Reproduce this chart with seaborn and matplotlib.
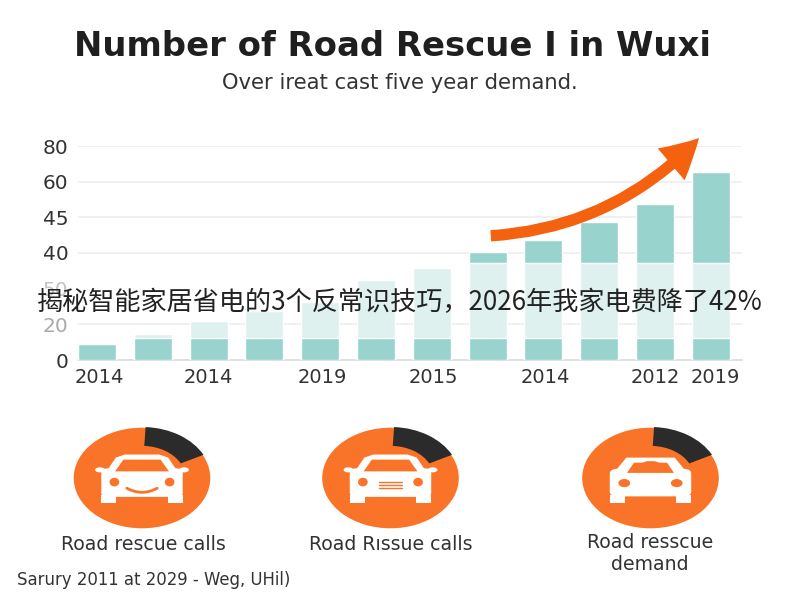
import numpy as np
import matplotlib
matplotlib.use("Agg")
import matplotlib.pyplot as plt
import seaborn as sns
from matplotlib.patches import Ellipse, FancyArrowPatch, FancyBboxPatch, Polygon, Rectangle

# bar heights are read in axis steps (one step = one gridline gap)
bar_heights = [0.45, 0.73, 1.09, 1.37, 1.62, 2.24, 2.58, 3.03, 3.36, 3.87, 4.37, 5.27]
band_low = 0.62
band_high = 2.72
x_tick_pos = [0.05, 2, 4.03, 6.02, 8.03, 10, 11.08]
x_tick_labels = ["2014", "2014", "2019", "2015", "2014", "2012", "2019"]
y_tick_labels = ["0", "20", "50", "40", "45", "60", "80"]
y_tick_colors = ["#333333", "#aaaaaa", "#c4c4c4", "#333333", "#333333", "#333333", "#333333"]

pie_shares = [1, 5]
pie_labels = ["Road rescue calls", "Road Rıssue calls", "Road resscue\ndemand"]

TEAL = "#98d3cd"
PALE = "#dff1ef"
ORANGE = "#f97428"
DARK = "#2b2b2b"
TEXT = "#333333"

W, H = 800, 600


def px_axes(fig, left, top, right, bottom):
    return fig.add_axes([left / W, 1 - bottom / H, (right - left) / W, (bottom - top) / H])


def draw_car(ax, kind):
    # car icon, coordinates relative to the pie circle
    if kind < 2:
        ax.add_patch(FancyBboxPatch((-0.59, -0.37), 1.18, 0.56, boxstyle="round,pad=0,rounding_size=0.1",
                                    fc="white", ec="none", mutation_aspect=0.75, zorder=5))
        ax.add_patch(Polygon([(-0.52, 0.12), (-0.38, 0.4), (-0.25, 0.46), (0.25, 0.46), (0.38, 0.4), (0.52, 0.12)],
                             fc="white", ec="none", zorder=5))
        ax.add_patch(Polygon([(-0.39, 0.13), (-0.27, 0.36), (0.27, 0.36), (0.39, 0.13)], fc=ORANGE, ec="none", zorder=6))
        for sx in (-1, 1):
            ax.add_patch(Ellipse((sx * 0.61, 0.16), 0.14, 0.1, fc="white", ec="none", zorder=5))
            ax.add_patch(Ellipse((sx * 0.4, -0.08), 0.14, 0.17, fc=ORANGE, ec="none", zorder=6))
            ax.add_patch(Rectangle((sx * 0.48 - 0.11, -0.49), 0.22, 0.15, fc="white", ec="none", zorder=5))
        if kind == 0:
            t = np.linspace(-1, 1, 30)
            ax.plot(t * 0.22, -0.2 - 0.08 * (1 - t ** 2), color=ORANGE, lw=2, zorder=6)
        else:
            for gy in (-0.08, -0.14, -0.2):
                ax.plot([-0.16, 0.16], [gy, gy], color=ORANGE, lw=1.0, zorder=6)
    else:
        ax.add_patch(FancyBboxPatch((-0.59, -0.36), 1.18, 0.54, boxstyle="round,pad=0,rounding_size=0.12",
                                    fc="white", ec="none", mutation_aspect=0.75, zorder=5))
        ax.add_patch(Polygon([(-0.52, 0.12), (-0.35, 0.4), (0.35, 0.4), (0.52, 0.12)], fc="white", ec="none", zorder=5))
        ax.add_patch(Polygon([(-0.34, 0.1), (-0.24, 0.3), (-0.12, 0.3), (-0.05, 0.33), (0.06, 0.33), (0.13, 0.3),
                              (0.24, 0.3), (0.34, 0.1)], fc=ORANGE, ec="none", zorder=6))
        for sx in (-1, 1):
            ax.add_patch(Ellipse((sx * 0.38, -0.1), 0.17, 0.16, fc=ORANGE, ec="none", zorder=6))
            ax.add_patch(Rectangle((sx * 0.48 - 0.11, -0.49), 0.22, 0.15, fc="white", ec="none", zorder=5))


sns.set_theme(style="white")
plt.rcParams["font.family"] = ["DejaVu Sans"]

fig = plt.figure(figsize=(8, 6), dpi=100, facecolor="white")

# bar chart
ax = px_axes(fig, 78, 146, 742, 360)
x = np.arange(len(bar_heights))
heights = np.array(bar_heights)
sns.barplot(x=x, y=heights, color=TEAL, width=0.68, saturation=1, ax=ax, zorder=3)
sns.barplot(x=x, y=np.minimum(heights, band_high), color=PALE, width=0.68, saturation=1, ax=ax, zorder=4)
sns.barplot(x=x, y=np.minimum(heights, band_low), color=TEAL, width=0.68, saturation=1, ax=ax, zorder=5)
ax.set_xlim(-0.34, 11.56)
ax.set_ylim(0, 6)
ax.set_yticks(range(len(y_tick_labels)))
ax.set_yticklabels(y_tick_labels, fontsize=14.5)
for lab, col in zip(ax.get_yticklabels(), y_tick_colors):
    lab.set_color(col)
ax.set_xticks(x_tick_pos)
ax.set_xticklabels(x_tick_labels, fontsize=14, color=TEXT)
ax.tick_params(axis="x", length=0, pad=6)
ax.tick_params(axis="y", length=0, pad=7)
ax.grid(axis="y", color="#eeeeee", lw=1.2, zorder=0)
ax.get_ygridlines()[2].set_visible(False)
ax.set_axisbelow(True)
for side in ("top", "right", "left"):
    ax.spines[side].set_visible(False)
ax.spines["bottom"].set_color("#dddddd")
ax.set_xlabel("")
ax.set_ylabel("")

# growth arrow on top of the chart
fig.add_artist(FancyArrowPatch((488 / W, 1 - 236 / H), (701 / W, 1 - 136 / H), transform=fig.transFigure,
                               connectionstyle="arc3,rad=0.2",
                               arrowstyle="simple,tail_width=0.34,head_width=1.25,head_length=1.15",
                               mutation_scale=24, fc="#f4610f", ec="none", zorder=10))

# pies with car icons
pie_centers = [142, 390.5, 650.5]
label_centers = [143, 391, 650]
label_rows = [544, 544, 554]
for i, cx in enumerate(pie_centers):
    pax = px_axes(fig, cx - 69, 427, cx + 69, 529)
    pax.pie([1], colors=[ORANGE], radius=1, startangle=90)
    pax.pie(pie_shares, colors=[DARK, "none"], radius=1, startangle=87, counterclock=False,
            wedgeprops={"width": 0.37, "linewidth": 0})
    pax.set_aspect("auto")
    pax.set_xlim(-1, 1)
    pax.set_ylim(-1, 1)
    pax.axis("off")
    draw_car(pax, i)
    fig.text(label_centers[i] / W, 1 - label_rows[i] / H, pie_labels[i], ha="center",
             va="center", fontsize=13.6, color=TEXT, linespacing=1.2)

fig.text(393 / W, 1 - 46 / H, "Number of Road Rescue I in Wuxi", ha="center", va="center",
         fontsize=24.4, fontweight="bold", color="#1f1f1f")
fig.text(400 / W, 1 - 83 / H, "Over ireat cast five year demand.", ha="center", va="center",
         fontsize=15.2, color=TEXT)
fig.text(17 / W, 1 - 580 / H, "Sarury 2011 at 2029 - Weg, UHil)", ha="left", va="center",
         fontsize=11.9, color=TEXT)

# text laid over the whole picture
fig.text(400 / W, 1 - 303 / H, "揭秘智能家居省电的3个反常识技巧，2026年我家电费降了42%", ha="center", va="center",
         fontsize=18.8, color="#222222", family=["Noto Sans CJK SC", "DejaVu Sans"], zorder=20)

fig.savefig("out.png", dpi=100)
